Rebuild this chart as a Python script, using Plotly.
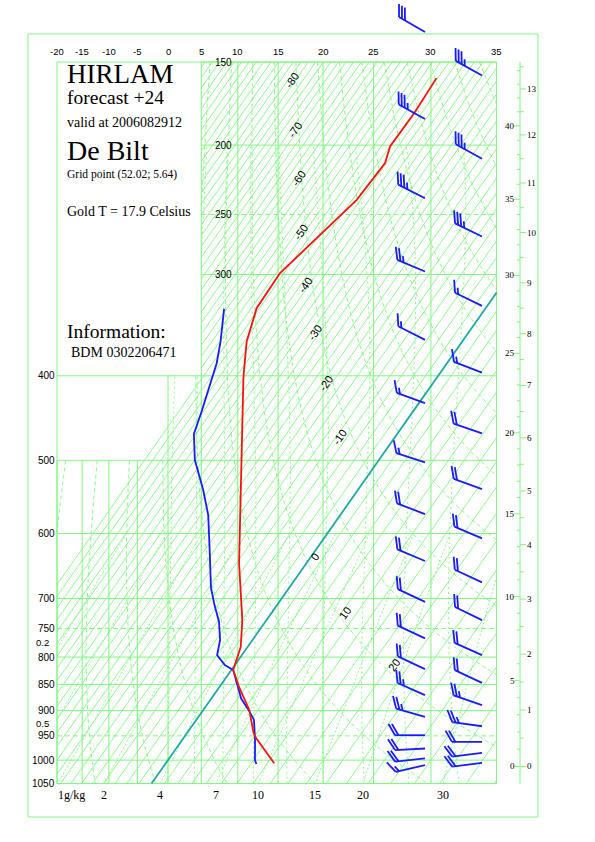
import numpy as np
import plotly.graph_objects as go

# ---- sounding (De Bilt, HIRLAM +24, valid 2006082912) ----
temp_p = [158.9, 179.5, 200.9, 212.2, 238.8, 298.8, 331.0, 364.0, 400.9, 501.6,
          644.4, 735.8, 781.7, 823.5, 857.1, 898.6, 944.7, 954.8, 1006.5]
temp_c = [-42.3, -41.7, -41.9, -40.3, -40.9, -47.0, -46.7, -43.4, -38.3, -25.3,
          -11.5, -3.9, -1.1, 0.3, 3.2, 6.8, 9.6, 10.4, 14.8]

dewp_p = [331.6, 364.0, 386.5, 400.9, 440.6, 467.0, 499.4, 538.9, 573.4, 624.3,
          682.1, 709.0, 738.6, 769.7, 796.5, 814.2, 823.5, 876.6, 901.9, 918.2,
          958.3, 1000.0, 1008.0]
dewp_c = [-54.7, -49.8, -47.0, -45.7, -42.4, -40.5, -36.0, -29.3, -24.4, -19.0,
          -13.6, -10.8, -7.7, -5.3, -4.0, -1.6, 0.3, 4.5, 7.0, 8.4,
          10.4, 12.2, 12.7]

# model level winds (alternate between the two barb columns)
wind_p = [134.4, 157.4, 183.2, 209.2, 237.6, 267.6, 297.4, 328.8, 362.2, 396.6,
          430.7, 466.3, 502.6, 537.7, 572.2, 607.0, 641.0, 674.2, 705.5, 735.8,
          767.0, 796.5, 821.7, 847.1, 870.2, 889.3, 912.0, 930.7, 948.7, 962.2,
          975.8, 985.0, 996.5, 1005.9, 1010.7]
wind_dir = [300, 299, 299, 299, 297, 296, 293, 296, 297, 291,
            290, 289, 288, 290, 291, 293, 293, 295, 295, 296,
            295, 294, 295, 295, 294, 289, 286, 278, 270, 270,
            267, 263, 264, 263, 257]
wind_kt = [30, 35, 35, 35, 35, 35, 25, 15, 15, 15,
           15, 20, 15, 20, 20, 20, 20, 20, 20, 20,
           20, 20, 20, 20, 25, 25, 25, 25, 20, 20,
           20, 20, 20, 20, 15]

p_levels = [150, 200, 250, 300, 400, 500, 600, 700, 750, 800, 850, 900, 950, 1000, 1050]
p_dashed = [250, 750, 950]
t_ticks = [-20, -15, -10, -5, 0, 5, 10, 15, 20, 25, 30, 35]
iso_labels = [-80, -70, -60, -50, -40, -30, -20, -10, 0, 10, 20]
mixr_lines = [0.2, 0.5, 1, 2, 4, 7, 10, 15, 20, 30]
mixr_bottom = [1, 2, 4, 7, 10, 15, 20, 30]
mixr_left = [0.2, 0.5]
km_labels = list(range(0, 14))
kft_labels = list(range(0, 45, 5))

title_lines = ["HIRLAM", "forecast +24", "valid at 2006082912", "De Bilt",
               "Grid point (52.02; 5.64)", "Gold T = 17.9 Celsius",
               "Information:", "BDM 0302206471"]

# ---- diagram geometry ----
W, H = 595, 842
KAPPA = 0.286
SKEW = 162.5        # px shift per unit of p**kappa
X_ZERO = 168        # 0 C at 1000 hPa
PX_PER_Y = 231.2
TOP_PX = 62         # pixel row of 150 hPa

GREEN = "#80f880"
TEAL = "#1fa9a2"
RED = "#ff1010"
BLUE = "#1a1aff"


def yv(p):
    return np.asarray(p, dtype=float) ** KAPPA


Y0 = float(yv(1000))
Y_TOP = float(yv(150))


def stretch(t):
    t = np.asarray(t, dtype=float)
    return 3.6 * t + 73.5 * (np.exp(0.0378 * t) - 1)


def xv(t, p):
    return X_ZERO + stretch(t) + SKEW * (Y0 - yv(p))


def py_to_y(py):
    return Y_TOP + (py - TOP_PX) / PX_PER_Y


def y_to_py(y):
    return TOP_PX + (y - Y_TOP) * PX_PER_Y


XL = float(X_ZERO + stretch(-20))
XR = float(X_ZERO + stretch(35))
X5 = float(X_ZERO + stretch(5))


def add_path(store, xs, ys, keep):
    xs = np.asarray(xs, float)
    ys = np.asarray(ys, float)
    ok = keep & (xs >= XL - 0.3) & (xs <= XR + 0.3)
    idx = np.flatnonzero(ok)
    if idx.size < 2:
        return
    cuts = np.flatnonzero(np.diff(idx) > 1)
    for seg in np.split(idx, cuts + 1):
        if seg.size < 2:
            continue
        store[0].extend(xs[seg].tolist() + [None])
        store[1].extend(ys[seg].tolist() + [None])


def open_area(xs, ps):
    # the corner with the header text stays blank
    return ~(((ps < 500) & (xs < X_ZERO)) | ((ps < 400) & (xs < X5)))


ys = np.linspace(yv(150), yv(1050), 1500)
ps = ys ** (1 / KAPPA)

# isotherms every 2 C
iso = ([], [])
for t in range(-110, 42, 2):
    xs = xv(t, ps)
    if t < -48:
        keep = (ps <= 400) & (xs >= X5)
    else:
        keep = np.ones_like(xs, bool)
    add_path(iso, xs, ys, keep)

# 0 C isotherm, highlighted
zero = ([], [])
add_path(zero, xv(0, ps), ys, np.ones_like(ps, bool))

# dry adiabats
dry = ([], [])
for th in range(250, 430, 10):
    tc = th * (ps / 1000) ** KAPPA - 273.15
    xs = xv(tc, ps)
    add_path(dry, xs, ys, open_area(xs, ps))


# saturated adiabats
def dtdp(tk, p):
    tc = tk - 273.15
    es = 6.112 * np.exp(17.67 * tc / (tc + 243.5))
    rs = 0.622 * es / (p - es)
    return (287.04 * tk + 2.501e6 * rs) / (1005.7 + 2.501e6 ** 2 * rs * 0.622 / (287.04 * tk ** 2)) / p


def integrate(t0, p_path):
    out = [t0]
    for p0, p1 in zip(p_path[:-1], p_path[1:]):
        h = p1 - p0
        k1 = dtdp(out[-1], p0)
        k2 = dtdp(out[-1] + h * k1, p1)
        out.append(out[-1] + h * (k1 + k2) / 2)
    return np.array(out)


moist = ([], [])
p_up = np.arange(1000, 199, -2.0)
p_dn = np.arange(1000, 1052, 2.0)
for tw in range(0, 36, 4):
    tk0 = np.array(tw + 273.15)
    t_up = integrate(tk0, p_up)
    t_dn = integrate(tk0, p_dn)
    pp = np.r_[p_dn[::-1], p_up[1:]]
    tt = np.r_[t_dn[::-1], t_up[1:]] - 273.15
    xs = xv(tt, pp)
    add_path(moist, xs, yv(pp), open_area(xs, pp))


# mixing ratio lines
def dew_of_mixr(w, p):
    e = w * p / (622.0 + w)
    a = np.log(e / 6.112)
    return 243.5 * a / (17.67 - a)


mix = ([], [])
pm = np.linspace(600, 1050, 300)
for w in mixr_lines:
    xs = xv(dew_of_mixr(w, pm), pm)
    add_path(mix, xs, yv(pm), np.ones_like(xs, bool))

# pressure lines
hsolid, hdash = ([], []), ([], [])
for p in p_levels:
    x0 = X5 if p <= 300 else XL
    tgt = hdash if p in p_dashed else hsolid
    tgt[0].extend([x0, XR, None])
    tgt[1].extend([float(yv(p)), float(yv(p)), None])

# vertical temperature lines
vert = ([], [])
for t in t_ticks:
    xt = float(X_ZERO + stretch(t))
    ptop = 500 if t < 0 else (400 if t == 0 else 150)
    vert[0].extend([xt, xt, None])
    vert[1].extend([float(yv(ptop)), float(yv(1050)), None])

# height scale on the right
AX_X = 520


def p_std(z):
    if z <= 11000:
        return 1013.25 * (1 - 2.25577e-5 * z) ** 5.25588
    return 226.32 * np.exp(-(z - 11000) / 6341.62)


hax = ([AX_X, AX_X, None], [float(yv(150)), float(yv(1050)), None])
for z in np.arange(0, 13.6, 0.5):
    y = float(yv(p_std(z * 1000)))
    ln = 6 if abs(z - round(z)) < 1e-6 else 4
    hax[0].extend([AX_X, AX_X + ln, None])
    hax[1].extend([y, y, None])
for f in range(0, 46):
    y = float(yv(p_std(f * 304.8)))
    if y < yv(150):
        continue
    ln = 6 if f % 5 == 0 else 3
    hax[0].extend([AX_X - ln, AX_X, None])
    hax[1].extend([y, y, None])

# wind barbs, drawn in screen pixels
STAFF, FEATHER, GAP = 30, 13, 3.4
barbs = ([], [])
for i, (p, d, kt) in enumerate(zip(wind_p, wind_dir, wind_kt)):
    xs0 = 425 if i % 2 == 0 else 482
    ys0 = y_to_py(float(yv(p)))
    b = np.radians(d)
    sx, sy = np.sin(b), -np.cos(b)
    mx, my = np.sin(b), np.cos(b)
    c, s = np.cos(np.radians(60)), np.sin(np.radians(60))
    fx, fy = mx * c + my * s, -(-mx * s + my * c)
    tipx, tipy = xs0 + STAFF * sx, ys0 + STAFF * sy
    barbs[0].extend([xs0, tipx, None])
    barbs[1].extend([py_to_y(ys0), py_to_y(tipy), None])
    n_full, half = kt // 10, (kt % 10) >= 5
    ticks = [FEATHER] * n_full + ([FEATHER / 2] if half else [])
    for k, ln in enumerate(ticks):
        bx, by = tipx - k * GAP * sx, tipy - k * GAP * sy
        barbs[0].extend([bx, bx + ln * fx, None])
        barbs[1].extend([py_to_y(by), py_to_y(by + ln * fy), None])

fig = go.Figure()


def add_lines(store, color, width=1, dash=None):
    fig.add_trace(go.Scatter(x=store[0], y=store[1], mode="lines", hoverinfo="skip",
                             line=dict(color=color, width=width, dash=dash)))


add_lines(iso, GREEN, 0.9)
add_lines(dry, GREEN, 0.9, "4px,3px")
add_lines(moist, GREEN, 0.9, "2px,3px")
add_lines(mix, GREEN, 0.9, "2px,2px")
add_lines(hsolid, GREEN, 1)
add_lines(hdash, GREEN, 1, "5px,3px")
add_lines(vert, GREEN, 1)
add_lines(hax, GREEN, 1)

# frame of the diagram
fig.add_trace(go.Scatter(x=[XL, XR, XR, XL, XL],
                         y=[float(yv(150)), float(yv(150)), float(yv(1050)), float(yv(1050)), float(yv(150))],
                         mode="lines", hoverinfo="skip", line=dict(color=GREEN, width=1)))

add_lines(zero, TEAL, 1.8)
fig.add_trace(go.Scatter(x=xv(dewp_c, dewp_p), y=yv(dewp_p), mode="lines",
                         line=dict(color=BLUE, width=1.8), name="dew point"))
fig.add_trace(go.Scatter(x=xv(temp_c, temp_p), y=yv(temp_p), mode="lines",
                         line=dict(color=RED, width=1.8), name="temperature"))
add_lines(barbs, BLUE, 1.8)

ann = []
SANS = "Liberation Sans"
SERIF = "Liberation Serif"


def paper_y(py):
    return 1 - py / H


def label(x, y, text, yref="y", xanchor="center", size=10, family=SANS, **kw):
    ann.append(dict(x=x, y=y, xref="x", yref=yref, xanchor=xanchor, yanchor="middle",
                    text=text, showarrow=False, borderpad=0,
                    font=dict(family=family, size=size, color="black"), **kw))


for t in t_ticks:
    label(float(X_ZERO + stretch(t)), paper_y(51.5), str(t), yref="paper", size=9.5)

for p in p_levels:
    label(233 if p <= 300 else 56, float(yv(p)), str(p), xanchor="right")

# mixing ratios that leave through the left edge: label sits between the two
# pressure labels around the exit point
pl = np.linspace(600, 1050, 2000)
for w in mixr_left:
    xs = xv(dew_of_mixr(w, pl), pl)
    pc = float(np.interp(XL, xs[::-1], pl[::-1]))
    lo = max(p for p in p_levels if p <= pc)
    hi = min(p for p in p_levels if p > pc)
    label(50, float((yv(lo) + yv(hi)) / 2), str(w), xanchor="right", size=9.5)

for w in mixr_bottom:
    xb = float(xv(dew_of_mixr(w, 1050.0), 1050.0))
    label(xb - 1 if w == 1 else xb, paper_y(795), "1g/kg" if w == 1 else str(w), yref="paper",
          xanchor="left" if w == 1 else "center", size=12, family=SERIF)

iso_label_p = dict(zip(iso_labels, [160, 190, 223, 264, 309, 355, 408, 471, 635, 724, 814]))
for t in iso_labels:
    pp = iso_label_p[t]
    label(float(xv(t, pp)) + 4, float(yv(pp)), str(t), size=11, textangle=-55)

for z in km_labels:
    label(AX_X + 6, float(yv(p_std(z * 1000))), str(z), xanchor="left", size=9, family=SERIF)
for f in kft_labels:
    label(AX_X - 4, float(yv(p_std(f * 304.8))), str(f), xanchor="right", size=9, family=SERIF)

title_style = [(27, 74), (19.5, 98), (14, 123), (28, 150), (11.5, 174), (14, 212), (19.5, 331), (14, 352)]
for txt, (sz, py) in zip(title_lines, title_style):
    label(66 if not txt.startswith("BDM") else 70, paper_y(py), txt, yref="paper",
          xanchor="left", size=sz, family=SERIF)

fig.update_layout(
    width=W, height=H, autosize=False,
    margin=dict(l=0, r=0, t=0, b=0),
    paper_bgcolor="white", plot_bgcolor="white",
    showlegend=False,
    xaxis=dict(range=[0, W], visible=False, fixedrange=True),
    yaxis=dict(range=[py_to_y(H), py_to_y(0)], visible=False, fixedrange=True),
    annotations=ann,
    shapes=[dict(type="rect", xref="x", yref="paper", x0=28, x1=538,
                 y0=paper_y(817), y1=paper_y(34), line=dict(color=GREEN, width=1))],
)

# the page body has a default margin; drop it so the figure sits at the window origin
fig.write_html("out.html", config={"displayModeBar": False},
               post_script="document.body.style.margin='0px';")
